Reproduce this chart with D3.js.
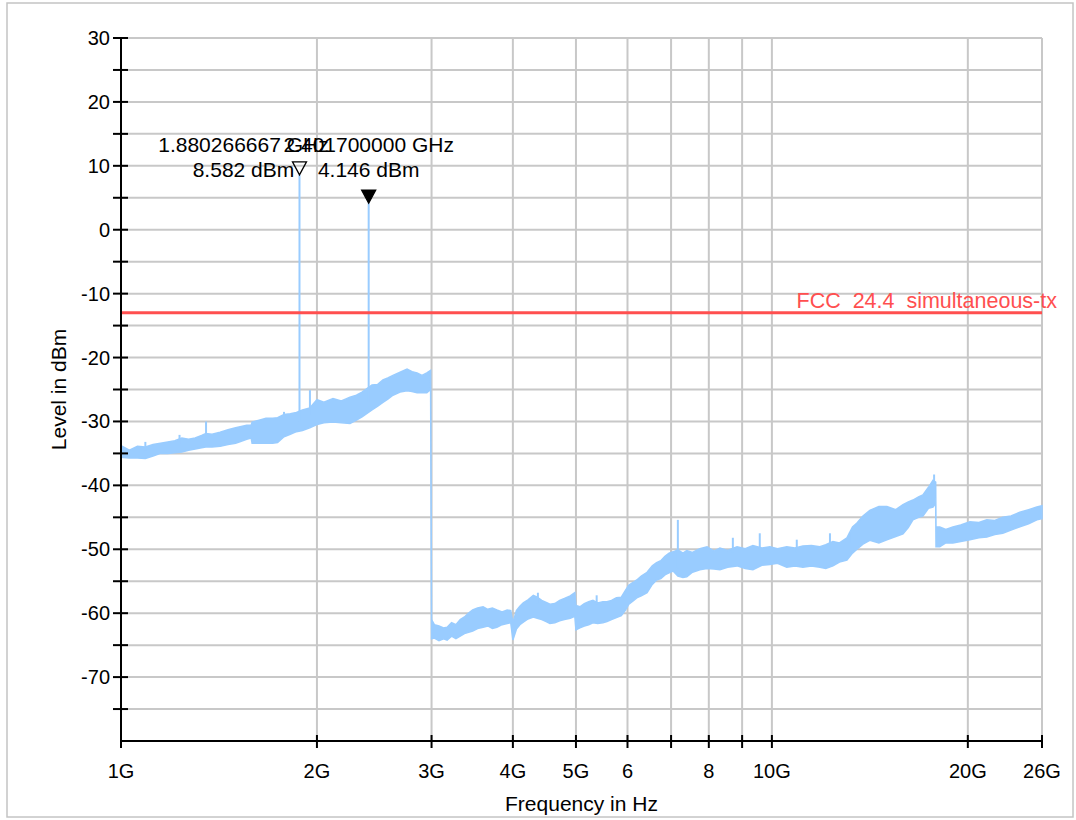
<!DOCTYPE html>
<html>
<head>
<meta charset="utf-8">
<script src="https://cdn.jsdelivr.net/npm/d3@7"></script>
<style>
  body { margin: 0; background: #fff; }
  svg text { font-family: "Liberation Sans", Arial, sans-serif; }
</style>
</head>
<body>
<div id="chart"></div>
<script>
// spectrum trace (GHz, dBm)
var traceFreq = [
  1.00, 1.03, 1.06, 1.09, 1.12, 1.15, 1.18, 1.21, 1.24, 1.27, 1.30, 1.33, 1.35, 1.38, 1.42, 1.46, 1.50, 1.53, 1.56, 1.585,
  1.59, 1.63, 1.67, 1.71, 1.74, 1.78, 1.82, 1.86, 1.90, 1.95,
  2.00, 2.05, 2.117, 2.18, 2.248, 2.30, 2.346, 2.43, 2.48, 2.526, 2.57, 2.617, 2.684, 2.751, 2.80, 2.85, 2.90, 2.95, 2.99,
  3.00, 3.03, 3.08, 3.13, 3.17, 3.22, 3.27, 3.32, 3.37, 3.42, 3.47, 3.53, 3.60, 3.66, 3.72, 3.78, 3.85, 3.92, 3.97,
  4.00, 4.05, 4.10, 4.15, 4.22, 4.30, 4.36, 4.43, 4.50, 4.56, 4.64, 4.72, 4.80, 4.90, 4.98,
  5.00, 5.07, 5.15, 5.23, 5.31, 5.40, 5.50, 5.58, 5.67, 5.77, 5.87, 5.95, 6.03, 6.12, 6.20, 6.30, 6.43, 6.55, 6.65, 6.75,
  6.85, 6.95, 7.05, 7.17, 7.30, 7.40, 7.55, 7.75, 7.95, 8.15, 8.32, 8.55, 8.84, 9.10, 9.35, 9.65, 9.93, 10.2, 10.54, 10.85,
  11.16, 11.5, 11.85, 12.1, 12.41, 12.7, 13.04, 13.3, 13.51, 13.8, 14.14, 14.6, 15.02, 15.5, 15.9, 16.2, 16.47, 16.8, 17.06, 17.4,
  17.68, 17.85, 17.87, 18.11, 18.5, 18.97, 19.5, 20.15, 20.8, 21.39, 22.0, 22.63, 23.3, 24.04, 24.8, 25.53, 26.0
];
var traceHi = [
  -33.8, -34.5, -33.9, -34.0, -33.6, -33.4, -33.2, -33.0, -32.6, -32.8, -32.6, -32.2, -31.9, -32.0, -31.7, -31.3, -31.0, -30.8, -30.6, -30.6,
  -30.1, -29.8, -29.5, -29.5, -29.4, -28.9, -28.8, -28.6, -28.2, -27.9,
  -26.6, -27.0, -26.4, -26.8, -26.2, -25.9, -25.4, -24.3, -24.2, -23.5, -23.2, -22.8, -22.3, -21.8, -22.2, -22.4, -22.8, -22.4, -22.0,
  -61.0, -61.8, -62.0, -62.3, -62.2, -61.5, -61.8, -61.0, -60.6, -60.0, -59.5, -59.2, -59.0, -59.4, -59.2, -59.5, -59.8, -59.5, -59.6,
  -61.5, -59.6, -58.9, -58.4, -57.9, -57.2, -57.5, -58.0, -58.3, -58.6, -58.5, -58.0, -57.7, -57.3, -56.8,
  -58.8, -59.0, -58.5, -58.2, -58.0, -58.4, -58.2, -58.2, -58.0, -57.6, -57.5, -56.5, -55.6, -55.2, -54.8, -54.2, -53.6, -52.6, -52.1, -51.8,
  -51.1, -50.6, -50.4, -50.1, -50.6, -50.2, -50.5, -49.9, -49.6, -50.3, -49.8, -50.2, -49.6, -49.9, -49.4, -49.8, -49.6, -49.9, -49.6, -49.8,
  -49.5, -49.4, -49.6, -49.3, -48.8, -49.0, -48.2, -46.5, -45.9, -44.8, -43.9, -43.3, -43.3, -43.8, -43.0, -42.6, -42.3, -41.8, -41.5, -40.3,
  -39.2, -39.5, -46.5, -46.5, -46.9, -46.5, -46.2, -45.7, -45.8, -45.4, -45.5, -45.0, -44.8, -44.2, -43.8, -43.4, -43.2
];
var traceLo = [
  -35.6, -35.7, -35.7, -35.8, -35.4, -35.0, -35.0, -34.9, -34.8, -34.5, -34.3, -34.1, -34.0, -34.0, -33.9, -33.6, -33.4, -33.1, -32.8, -32.6,
  -33.4, -33.4, -33.4, -33.4, -33.3, -32.4, -32.0, -31.6, -31.4, -31.0,
  -30.5, -30.2, -30.1, -30.2, -30.3, -29.8, -29.3, -28.2, -27.6, -27.0, -26.5, -25.9, -25.4, -25.2, -25.3, -25.5, -25.5, -25.5, -25.0,
  -64.0, -63.9, -64.3, -64.0, -64.2, -63.6, -64.0, -63.6, -63.2, -63.0, -62.8, -62.4, -62.2, -62.0, -62.4, -62.2, -61.8, -61.6, -61.5,
  -64.2, -62.5, -61.8, -61.4, -60.9, -60.6, -60.8, -61.0, -61.3, -61.6, -61.5, -61.2, -61.0, -60.8, -60.5,
  -62.6, -62.3, -62.0, -61.8, -61.5, -61.6, -61.5, -61.3, -61.0, -60.7, -60.4, -59.6, -58.6, -58.1, -57.6, -57.3, -56.8, -55.5, -54.8, -54.6,
  -54.0, -53.7, -53.4, -54.2, -54.4, -54.3, -53.6, -53.2, -53.0, -53.1, -53.2, -52.8, -52.6, -53.0, -53.2, -52.5, -52.4, -52.2, -52.8, -52.6,
  -52.8, -52.6, -52.8, -53.0, -52.6, -52.0, -51.7, -50.6, -50.0, -49.2, -48.6, -49.0, -48.5, -48.0, -47.6, -46.6, -45.4, -45.0, -44.8, -43.6,
  -43.4, -42.8, -49.6, -49.6, -49.0, -49.0, -48.8, -48.5, -48.2, -48.1, -47.7, -47.5, -47.0, -46.5, -46.0, -45.4, -45.2
];

// narrow spurs sticking out of the trace
var spurFreq  = [1.09, 1.23, 1.351, 1.78, 1.880266667, 1.951, 2.4017, 4.37, 5.38, 7.17, 8.71, 9.58, 10.92, 12.28, 13.18, 17.75];
var spurLevel = [-33.2, -32.1, -30.0, -28.5, 8.582, -25.1, 4.146, -56.8, -57.2, -45.4, -48.2, -47.5, -48.5, -47.5, -47.3, -38.3];
var spurBase  = [-34.5, -33.5, -33.0, -30.0, -30.0, -29.0, -27.0, -58.5, -58.6, -53.0, -50.5, -50.0, -50.5, -50.0, -49.0, -42.0];

// markers
var markerFreq   = [1.880266667, 2.4017];
var markerLevel  = [8.582, 4.146];
var markerFreqTx = ["1.880266667 GHz", "2.401700000 GHz"];
var markerLvlTx  = ["8.582 dBm", "4.146 dBm"];
var markerFilled = [false, true];

// limit line
var limitLevel = -13;
var limitName = "FCC  24.4  simultaneous-tx";

// axes
var xTicks = [1, 2, 3, 4, 5, 6, 7, 8, 9, 10, 20, 26];
var xTickLabels = ["1G", "2G", "3G", "4G", "5G", "6", "", "8", "", "10G", "20G", "26G"];
var yMajor = [-70, -60, -50, -40, -30, -20, -10, 0, 10, 20, 30];
var yMinor = [-75, -65, -55, -45, -35, -25, -15, -5, 5, 15, 25];

var W = 1076, H = 820;
var pL = 121, pR = 1042, pT = 38, pB = 741;

var svg = d3.select("#chart").append("svg")
  .attr("width", W)
  .attr("height", H);

// frame round the whole figure
svg.append("rect")
  .attr("x", 7).attr("y", 3)
  .attr("width", 1066).attr("height", 814)
  .attr("fill", "none")
  .attr("stroke", "#c4c4c4")
  .attr("stroke-width", 1.5);

var x = d3.scaleLog().domain([1, 26]).range([pL, pR]);
var y = d3.scaleLinear().domain([-80, 30]).range([pB, pT]);

// grid
var grid = svg.append("g").attr("stroke", "#c8c8c8").attr("stroke-width", 2);
grid.selectAll(".gx").data(xTicks.slice(1))
  .enter().append("line")
  .attr("x1", function(d) { return x(d); })
  .attr("x2", function(d) { return x(d); })
  .attr("y1", pT).attr("y2", pB);
grid.selectAll(".gy").data(yMajor.concat(yMinor))
  .enter().append("line")
  .attr("y1", function(d) { return y(d); })
  .attr("y2", function(d) { return y(d); })
  .attr("x1", pL).attr("x2", pR);

// trace
var band = d3.range(traceFreq.length).map(function(i) {
  return { f: traceFreq[i], hi: traceHi[i], lo: traceLo[i] };
});
var area = d3.area()
  .x(function(d) { return x(d.f); })
  .y0(function(d) { return y(d.lo); })
  .y1(function(d) { return y(d.hi); });
svg.append("path")
  .datum(band)
  .attr("d", area)
  .attr("fill", "#99ccff")
  .attr("stroke", "#99ccff")
  .attr("stroke-width", 1.5)
  .attr("stroke-linejoin", "miter");

svg.append("g").selectAll("line")
  .data(d3.range(spurFreq.length))
  .enter().append("line")
  .attr("x1", function(i) { return x(spurFreq[i]); })
  .attr("x2", function(i) { return x(spurFreq[i]); })
  .attr("y1", function(i) { return y(spurBase[i]); })
  .attr("y2", function(i) { return y(spurLevel[i]); })
  .attr("stroke", "#99ccff")
  .attr("stroke-width", 2);

// limit line
svg.append("line")
  .attr("x1", pL).attr("x2", pR)
  .attr("y1", y(limitLevel)).attr("y2", y(limitLevel))
  .attr("stroke", "#ff4f4f")
  .attr("stroke-width", 3);
svg.append("text")
  .attr("x", 1057).attr("y", y(limitLevel) - 5)
  .attr("text-anchor", "end")
  .attr("fill", "#ff4f4f")
  .attr("font-size", 21.5)
  .style("white-space", "pre")
  .text(limitName);

// axes
var axes = svg.append("g").attr("stroke", "#000").attr("stroke-width", 2);
axes.append("line").attr("x1", pL).attr("x2", pL).attr("y1", pT).attr("y2", pB);
axes.append("line").attr("x1", pL).attr("x2", pR).attr("y1", pB).attr("y2", pB);
axes.selectAll(".ty").data(yMajor.concat(yMinor))
  .enter().append("line")
  .attr("x1", pL - 8).attr("x2", pL + 7)
  .attr("y1", function(d) { return y(d); })
  .attr("y2", function(d) { return y(d); });
axes.selectAll(".tx").data(xTicks)
  .enter().append("line")
  .attr("x1", function(d) { return x(d); })
  .attr("x2", function(d) { return x(d); })
  .attr("y1", pB - 6).attr("y2", pB + 7);

svg.append("g").selectAll("text")
  .data(yMajor)
  .enter().append("text")
  .attr("x", pL - 11)
  .attr("y", function(d) { return y(d); })
  .attr("dy", "0.35em")
  .attr("text-anchor", "end")
  .attr("font-size", 20)
  .text(function(d) { return d; });

svg.append("g").selectAll("text")
  .data(d3.range(xTicks.length))
  .enter().append("text")
  .attr("x", function(i) { return x(xTicks[i]); })
  .attr("y", 778)
  .attr("text-anchor", "middle")
  .attr("font-size", 20)
  .text(function(i) { return xTickLabels[i]; });

svg.append("text")
  .attr("x", (pL + pR) / 2).attr("y", 811)
  .attr("text-anchor", "middle")
  .attr("font-size", 21)
  .text("Frequency in Hz");

svg.append("text")
  .attr("transform", "translate(66," + ((pT + pB) / 2) + ") rotate(-90)")
  .attr("text-anchor", "middle")
  .attr("font-size", 21)
  .text("Level in dBm");

// markers
var labelShift = [-56, 0];
d3.range(markerFreq.length).forEach(function(i) {
  var mx = x(markerFreq[i]), my = y(markerLevel[i]);
  svg.append("path")
    .attr("d", "M" + (mx - 7) + "," + (my - 13) + "L" + (mx + 7) + "," + (my - 13) + "L" + mx + "," + my + "Z")
    .attr("fill", markerFilled[i] ? "#000" : "none")
    .attr("stroke", "#000")
    .attr("stroke-width", 1.3);
  var lx = mx + labelShift[i];
  svg.append("text")
    .attr("x", lx).attr("y", 152)
    .attr("text-anchor", "middle")
    .attr("font-size", 21)
    .text(markerFreqTx[i]);
  svg.append("text")
    .attr("x", lx).attr("y", 177)
    .attr("text-anchor", "middle")
    .attr("font-size", 21)
    .text(markerLvlTx[i]);
});
</script>
</body>
</html>
